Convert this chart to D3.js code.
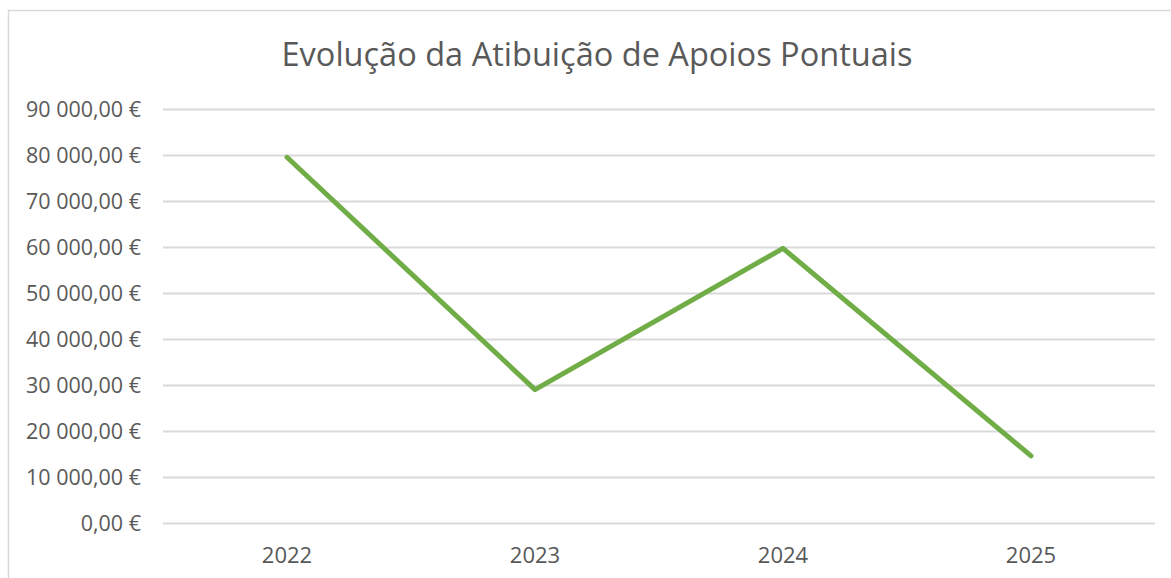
<!DOCTYPE html>
<html>
<head>
<meta charset="utf-8">
<script src="https://cdn.jsdelivr.net/npm/d3@7"></script>
<style>
  body { margin: 0; background: #fff; }
  svg { display: block; }
  svg text { font-family: "Open Sans", "Liberation Sans", sans-serif; }
</style>
</head>
<body>
<svg id="chart"></svg>
<script>
const width = 1171
const height = 578

const title = "Evolução da Atibuição de Apoios Pontuais"
const years = ["2022", "2023", "2024", "2025"]
const amounts = [79500, 29000, 59700, 14600]
const yTicks = [0, 10000, 20000, 30000, 40000, 50000, 60000, 70000, 80000, 90000]

const margin = {top: 109, right: 16, bottom: 55, left: 163}

const svg = d3.select('#chart')
    .attr('width', width)
    .attr('height', height);

// outer chart frame (only top and left visible in the crop)
svg.append('rect')
    .attr('x', 8.5)
    .attr('y', 10.5)
    .attr('width', width + 20)
    .attr('height', height + 20)
    .style('fill', 'none')
    .style('stroke', '#d9d9d9')
    .style('stroke-width', 1.5);

const x = d3.scaleBand()
    .domain(years)
    .range([margin.left, width - margin.right]);

const y = d3.scaleLinear()
    .domain([0, 90000])
    .range([height - margin.bottom, margin.top]);

const fmt = v => {
    let s = d3.format(',.2f')(v);
    return s.replace(/,/g, ' ').replace('.', ',') + ' €';
};

// gridlines + y labels
const yAxis = d3.axisLeft(y)
    .tickValues(yTicks)
    .tickSize(-(width - margin.left - margin.right))
    .tickPadding(22)
    .tickFormat(fmt);

const gy = svg.append('g')
    .attr('transform', `translate(${margin.left},0)`)
    .call(yAxis);
gy.select('.domain').remove();
gy.selectAll('.tick line')
    .style('stroke', '#d9d9d9')
    .style('stroke-width', 2);
gy.selectAll('.tick text')
    .style('fill', '#595959')
    .style('font-size', '21px')
    .attr('dy', '0.34em');

// squeeze labels so the widest one spans ~115px like the reference
let maxW = d3.max(gy.selectAll('.tick text').nodes(), n => n.getComputedTextLength());
let k = 115 / maxW;
gy.selectAll('.tick text').each(function() {
    d3.select(this)
        .attr('textLength', this.getComputedTextLength() * k)
        .attr('lengthAdjust', 'spacingAndGlyphs');
});

// x labels
const xAxis = d3.axisBottom(x).tickSize(0).tickPadding(0);
const gx = svg.append('g')
    .attr('transform', `translate(0,${height - margin.bottom})`)
    .call(xAxis);
gx.select('.domain').remove();
gx.selectAll('.tick text')
    .attr('dy', null)
    .attr('y', 39.5)
    .style('fill', '#595959')
    .style('font-size', '22px');

// series line
const line = d3.line()
    .x((d, i) => x(years[i]) + x.bandwidth() / 2)
    .y(d => y(d));

svg.append('path')
    .datum(amounts)
    .attr('d', line)
    .style('fill', 'none')
    .style('stroke', '#70ad47')
    .style('stroke-width', 5)
    .style('stroke-linecap', 'round')
    .style('stroke-linejoin', 'round');

// title
const t = svg.append('text')
    .attr('x', 597)
    .attr('y', 66)
    .attr('text-anchor', 'middle')
    .style('fill', '#595959')
    .style('font-size', '32px')
    .text(title);
t.attr('textLength', 631).attr('lengthAdjust', 'spacingAndGlyphs');
</script>
</body>
</html>
